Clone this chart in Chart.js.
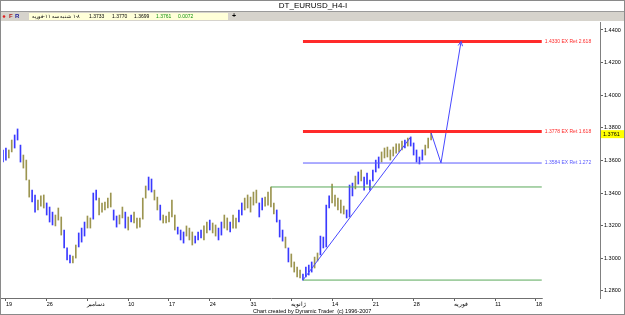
<!DOCTYPE html>
<html lang="fa">
<head>
<meta charset="utf-8">
<title>DT_EURUSD_H4-I</title>
<script src="https://cdn.jsdelivr.net/npm/chart.js"></script>
<style>
  html, body { margin: 0; padding: 0; background: #fff; }
  #wrap { width: 625px; height: 315px; }
</style>
</head>
<body>
<div id="wrap"><canvas id="chart" width="625" height="315"></canvas></div>
<script>
// header
const chartTitle = 'DT_EURUSD_H4-I';
const headerDateParts = ['فوریه', '-۱۱', ' سه', ' شنبه', ' ۱', '-', '۸']; // drawn left to right
const headerValues = [1.3733, 1.3770, 1.3699, 1.3761, 0.0072]; // open high low close change
const footerText = 'Chart created by Dynamic Trader  (c) 1996-2007';

// price bars (one bar = half a day)
const barHigh = [
  1.3664, 1.3676, 1.3664, 1.3725, 1.3756, 1.3793, 1.3694, 1.3633, 1.3602, 1.3480,
  1.3418, 1.3388, 1.3357, 1.3382, 1.3388, 1.3339, 1.3314, 1.3283, 1.3265, 1.3308,
  1.3253, 1.3173, 1.3063, 1.3020, 1.3013, 1.3081, 1.3155, 1.3185, 1.3222, 1.3259,
  1.3247, 1.3400, 1.3418, 1.3369, 1.3339, 1.3345, 1.3369, 1.3400, 1.3296, 1.3259,
  1.3265, 1.3314, 1.3283, 1.3253, 1.3265, 1.3283, 1.3247, 1.3247, 1.3369, 1.3443,
  1.3498, 1.3486, 1.3418, 1.3375, 1.3326, 1.3265, 1.3259, 1.3283, 1.3357, 1.3265,
  1.3191, 1.3173, 1.3161, 1.3198, 1.3185, 1.3161, 1.3136, 1.3161, 1.3173, 1.3198,
  1.3222, 1.3234, 1.3216, 1.3204, 1.3185, 1.3222, 1.3265, 1.3247, 1.3222, 1.3265,
  1.3247, 1.3296, 1.3339, 1.3369, 1.3388, 1.3375, 1.3406, 1.3418, 1.3339, 1.3369,
  1.3375, 1.3406, 1.3437, 1.3339, 1.3296, 1.3234, 1.3173, 1.3130, 1.3063, 1.3026,
  1.2977, 1.2946, 1.2928, 1.2903, 1.2946, 1.2958, 1.2977, 1.3007, 1.3032, 1.3136,
  1.3130, 1.3326, 1.3382, 1.3455, 1.3388, 1.3369, 1.3357, 1.3320, 1.3296, 1.3449,
  1.3461, 1.3504, 1.3529, 1.3541, 1.3498, 1.3523, 1.3480, 1.3541, 1.3602, 1.3621,
  1.3652, 1.3676, 1.3682, 1.3664, 1.3682, 1.3701, 1.3701, 1.3719, 1.3725, 1.3737,
  1.3744, 1.3707, 1.3664, 1.3621, 1.3664, 1.3694, 1.3737, 1.3770
];
const barLow = [
  1.3590, 1.3602, 1.3615, 1.3652, 1.3676, 1.3725, 1.3590, 1.3553, 1.3480, 1.3375,
  1.3345, 1.3283, 1.3296, 1.3320, 1.3308, 1.3265, 1.3222, 1.3204, 1.3198, 1.3234,
  1.3142, 1.3063, 1.2989, 1.2971, 1.2971, 1.3001, 1.3069, 1.3099, 1.3136, 1.3185,
  1.3185, 1.3240, 1.3357, 1.3265, 1.3283, 1.3296, 1.3308, 1.3314, 1.3234, 1.3191,
  1.3210, 1.3247, 1.3185, 1.3173, 1.3222, 1.3216, 1.3185, 1.3191, 1.3240, 1.3369,
  1.3418, 1.3406, 1.3357, 1.3296, 1.3234, 1.3216, 1.3216, 1.3222, 1.3253, 1.3173,
  1.3148, 1.3112, 1.3093, 1.3136, 1.3112, 1.3081, 1.3093, 1.3112, 1.3124, 1.3112,
  1.3155, 1.3173, 1.3155, 1.3136, 1.3112, 1.3142, 1.3185, 1.3173, 1.3161, 1.3185,
  1.3185, 1.3222, 1.3265, 1.3296, 1.3308, 1.3283, 1.3326, 1.3339, 1.3253, 1.3296,
  1.3320, 1.3326, 1.3314, 1.3271, 1.3222, 1.3130, 1.3105, 1.3063, 1.2977, 1.2946,
  1.2915, 1.2885, 1.2879, 1.2866, 1.2885, 1.2897, 1.2915, 1.2940, 1.2983, 1.3020,
  1.3063, 1.3069, 1.3308, 1.3339, 1.3320, 1.3296, 1.3277, 1.3271, 1.3247, 1.3253,
  1.3382, 1.3425, 1.3455, 1.3474, 1.3418, 1.3455, 1.3418, 1.3474, 1.3529, 1.3553,
  1.3590, 1.3615, 1.3621, 1.3602, 1.3627, 1.3645, 1.3652, 1.3664, 1.3676, 1.3688,
  1.3688, 1.3633, 1.3590, 1.3578, 1.3602, 1.3633, 1.3676, 1.3725
];
// 1 = blue bar, 0 = olive bar
const barUp = [
  1, 1, 0, 0, 1, 1, 1, 0, 0, 0, 1, 1, 0, 0, 0, 1, 1, 1, 0, 0,
  0, 1, 1, 1, 0, 0, 1, 1, 1, 0, 0, 1, 1, 0, 0, 0, 0, 0, 1, 1,
  0, 0, 1, 0, 1, 0, 0, 0, 0, 0, 1, 1, 0, 0, 1, 0, 0, 0, 0, 0,
  1, 1, 1, 0, 0, 0, 1, 1, 1, 0, 0, 1, 0, 0, 1, 1, 0, 0, 1, 0,
  0, 1, 1, 0, 0, 0, 0, 0, 1, 1, 0, 0, 0, 0, 1, 1, 1, 0, 1, 0,
  0, 0, 0, 1, 1, 1, 1, 0, 0, 1, 1, 1, 1, 0, 0, 0, 0, 0, 1, 1,
  1, 0, 1, 0, 1, 1, 1, 1, 1, 1, 0, 0, 0, 0, 0, 0, 0, 0, 1, 0,
  1, 1, 1, 1, 1, 0, 0, 0
];

// time axis
const weekLabels = ['19', '26', 'دسامبر', '10', '17', '24', '31', 'ژانویه', '14', '21', '28', 'فوریه', '11', '18'];
const barsPerWeek = 14;
const firstWeekBar = 1;

// price axis
const priceMin = 1.2756;
const priceMax = 1.4449;
const priceStep = 0.02;

// extension levels
const levelPrices = [1.4330, 1.3778, 1.3584, 1.3437, 1.2866];
const levelNames = ['1.4330 EX Ret 2.618', '1.3778 EX Ret 1.618', '1.3584 EX Ret 1.272', '', ''];
const levelStart = [103, 103, 103, 92, 103];
const levelEnd = 185;
const levelKind = ['red', 'red', 'blue', 'green', 'green'];

// trend line and projected path
const trendBars = [103, 140];
const trendPrices = [1.2866, 1.3744];
const projBars = [147, 150.4, 157.3];
const projPrices = [1.3770, 1.3584, 1.4330];

const colors = {
  blueBar: '#3a3aff',
  oliveBar: '#9c9550',
  red: '#ff2a2a',
  blue: '#5a5aff',
  green: '#5aa85a'
};
const smallFont = { family: 'Liberation Sans', size: 5.5 };

const datasets = [];
levelPrices.forEach((p, i) => {
  datasets.push({
    type: 'line',
    data: [{ x: levelStart[i], y: p }, { x: levelEnd, y: p }],
    borderColor: colors[levelKind[i]],
    borderWidth: levelKind[i] === 'red' ? 3 : 1,
    pointRadius: 0,
    order: 0
  });
});
datasets.push({
  type: 'line',
  data: trendBars.map((b, i) => ({ x: b, y: trendPrices[i] })),
  borderColor: '#4848ff',
  borderWidth: 1,
  pointRadius: 0,
  order: 0
});
datasets.push({
  type: 'line',
  data: projBars.map((b, i) => ({ x: b, y: projPrices[i] })),
  borderColor: '#4848ff',
  borderWidth: 1,
  pointRadius: 0,
  order: 0
});
datasets.push({
  type: 'bar',
  data: barHigh.map((h, i) => ({ x: i, y: [barLow[i], h] })),
  backgroundColor: barUp.map(u => u ? colors.blueBar : colors.oliveBar),
  barThickness: 1,
  grouped: false,
  borderWidth: 0,
  order: 1
});

const decorations = {
  id: 'decorations',
  beforeDraw(chart) {
    const ctx = chart.ctx;
    ctx.save();
    ctx.fillStyle = '#fff';
    ctx.fillRect(0, 0, 625, 315);
    // title
    ctx.fillStyle = '#000';
    ctx.font = '8px "Liberation Sans"';
    ctx.textAlign = 'center';
    ctx.textBaseline = 'middle';
    ctx.fillText(chartTitle, 313, 6);
    // toolbar
    ctx.fillStyle = '#d6d3cc';
    ctx.fillRect(0, 12, 625, 9);
    ctx.fillStyle = '#9a9a9a';
    ctx.fillRect(0, 11, 625, 1);
    ctx.fillStyle = '#ffffd8';
    ctx.fillRect(29, 13, 199, 7);
    ctx.fillStyle = '#e02020';
    ctx.beginPath();
    ctx.arc(4, 16.5, 1.3, 0, Math.PI * 2);
    ctx.fill();
    ctx.font = 'bold 6px "Liberation Sans"';
    ctx.textAlign = 'left';
    ctx.fillStyle = '#b02020';
    ctx.fillText('F', 9, 16.5);
    ctx.fillStyle = '#20209a';
    ctx.fillText('R', 15, 16.5);
    ctx.font = '5px "Liberation Sans"';
    ctx.fillStyle = '#000';
    ctx.direction = 'ltr';
    let px = 32;
    headerDateParts.forEach(part => {
      ctx.fillText(part, px, 16.5);
      px += ctx.measureText(part).width;
    });
    const hx = [89, 112, 134, 156, 178];
    headerValues.forEach((v, i) => {
      ctx.fillStyle = i >= 3 ? '#109010' : '#000';
      ctx.fillText(v.toFixed(4), hx[i], 16.5);
    });
    ctx.fillStyle = '#000';
    ctx.font = 'bold 7px "Liberation Sans"';
    ctx.fillText('+', 232, 16.5);
    ctx.restore();
  },
  afterDraw(chart) {
    const ctx = chart.ctx;
    const xs = chart.scales.x;
    const ys = chart.scales.y;
    const area = chart.chartArea;
    ctx.save();
    // level labels
    ctx.font = '5px "Liberation Sans"';
    ctx.textAlign = 'left';
    ctx.textBaseline = 'middle';
    levelNames.forEach((name, i) => {
      if (!name) return;
      ctx.fillStyle = colors[levelKind[i]];
      ctx.fillText(name, xs.getPixelForValue(levelEnd) + 3, ys.getPixelForValue(levelPrices[i]));
    });
    // arrow head on projection
    const n = projBars.length;
    const tx = xs.getPixelForValue(projBars[n - 1]);
    const ty = ys.getPixelForValue(projPrices[n - 1]);
    const fx = xs.getPixelForValue(projBars[n - 2]);
    const fy = ys.getPixelForValue(projPrices[n - 2]);
    const ang = Math.atan2(ty - fy, tx - fx);
    ctx.strokeStyle = '#4848ff';
    ctx.lineWidth = 1;
    ctx.beginPath();
    [0.45, -0.45].forEach(d => {
      ctx.moveTo(tx, ty);
      ctx.lineTo(tx - 5 * Math.cos(ang + d), ty - 5 * Math.sin(ang + d));
    });
    ctx.stroke();
    // time axis base line
    ctx.strokeStyle = '#707070';
    ctx.beginPath();
    ctx.moveTo(0, area.bottom + 0.5);
    ctx.lineTo(xs.getPixelForValue(levelEnd) + 1, area.bottom + 0.5);
    ctx.stroke();
    // last price box
    const lp = ys.getPixelForValue(headerValues[3]);
    ctx.fillStyle = '#ffff00';
    ctx.fillRect(area.right + 1, lp - 4, 24, 8);
    ctx.fillStyle = '#000';
    ctx.font = '5.5px "Liberation Sans"';
    ctx.fillText(headerValues[3].toFixed(4), area.right + 3, lp);
    // footer
    ctx.fillText(footerText, 253, 311);
    // frame
    ctx.strokeStyle = '#8a8a8a';
    ctx.strokeRect(0.5, 0.5, 624, 314);
    ctx.restore();
  }
};

new Chart(document.getElementById('chart'), {
  data: { datasets: datasets },
  options: {
    responsive: false,
    animation: false,
    layout: { padding: { left: 3, top: 22, right: 0, bottom: 0 } },
    plugins: { legend: { display: false }, tooltip: { enabled: false } },
    scales: {
      x: {
        type: 'linear',
        min: 0,
        max: 205,
        offset: false,
        afterBuildTicks: s => {
          s.ticks = weekLabels.map((_, i) => ({ value: firstWeekBar + i * barsPerWeek }));
        },
        ticks: {
          callback: (v, i) => weekLabels[i],
          align: 'start',
          autoSkip: false,
          maxRotation: 0,
          padding: 0,
          color: '#000',
          font: smallFont
        },
        grid: { offset: false, drawOnChartArea: false, tickLength: 3, color: '#606060' },
        border: { display: false },
        afterFit: s => { s.height = 17; }
      },
      y: {
        position: 'right',
        min: priceMin,
        max: priceMax,
        ticks: {
          stepSize: priceStep,
          includeBounds: false,
          callback: v => v.toFixed(4),
          padding: 1,
          color: '#000',
          font: smallFont
        },
        grid: { drawOnChartArea: false, tickLength: 3, color: '#606060' },
        border: { display: true, color: '#808080' },
        afterFit: s => { s.width = 25; }
      }
    }
  },
  plugins: [decorations]
});
</script>
</body>
</html>
